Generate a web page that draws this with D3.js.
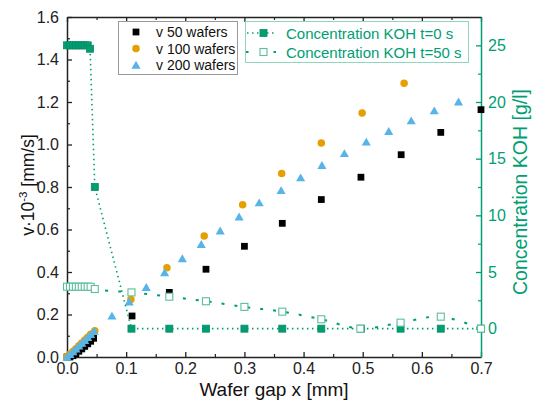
<!DOCTYPE html>
<html>
<head>
<meta charset="utf-8">
<script src="https://cdn.jsdelivr.net/npm/d3@7"></script>
<style>
  body { margin: 0; background: white; }
  svg text { font-family: "Liberation Sans", Arial, sans-serif; }
</style>
</head>
<body>
<div id="chart"></div>
<script>
var W = 534, H = 400;
var green = "#009E73", orange = "#E69F00", blue = "#56B4E9";

// v 50 wafers
var x50 = [0.000, 0.005, 0.010, 0.015, 0.020, 0.025, 0.030, 0.035, 0.040, 0.045,
           0.110, 0.173, 0.235, 0.300, 0.364, 0.430, 0.497, 0.565, 0.632, 0.700];
var v50 = [0.000, 0.000, 0.006, 0.016, 0.027, 0.038, 0.050, 0.062, 0.074, 0.088,
           0.193, 0.304, 0.413, 0.521, 0.629, 0.741, 0.846, 0.952, 1.057, 1.164];
// v 100 wafers
var x100 = [0.000, 0.005, 0.010, 0.015, 0.020, 0.025, 0.030, 0.035, 0.040, 0.047,
            0.108, 0.169, 0.232, 0.297, 0.363, 0.430, 0.499, 0.570];
var v100 = [0.001, 0.013, 0.026, 0.039, 0.053, 0.066, 0.080, 0.093, 0.107, 0.123,
            0.271, 0.420, 0.569, 0.717, 0.863, 1.007, 1.148, 1.288];
// v 200 wafers
var x200 = [0.000, 0.005, 0.010, 0.015, 0.020, 0.025, 0.030, 0.035, 0.040, 0.046,
            0.076, 0.105, 0.134, 0.165, 0.195, 0.227, 0.259, 0.291, 0.325, 0.362,
            0.395, 0.431, 0.469, 0.506, 0.544, 0.582, 0.621, 0.662];
var v200 = [0.000, 0.012, 0.025, 0.038, 0.052, 0.065, 0.078, 0.092, 0.106, 0.122,
            0.193, 0.260, 0.328, 0.397, 0.463, 0.530, 0.594, 0.660, 0.726, 0.784,
            0.844, 0.902, 0.958, 1.012, 1.062, 1.112, 1.159, 1.201];
// Concentration KOH t=0 s
var xc0 = [0.000, 0.005, 0.010, 0.015, 0.020, 0.025, 0.030, 0.035, 0.039, 0.047,
           0.109, 0.173, 0.235, 0.300, 0.364, 0.430, 0.497, 0.564, 0.632, 0.700];
var c0 = [25.0, 25.0, 25.0, 25.0, 25.0, 25.0, 25.0, 25.0, 24.7, 12.5,
          0, 0, 0, 0, 0, 0, 0, 0, 0, 0];
// Concentration KOH t=50 s
var xc50 = [0.000, 0.005, 0.010, 0.015, 0.020, 0.025, 0.030, 0.035, 0.040, 0.047,
            0.109, 0.173, 0.235, 0.300, 0.364, 0.430, 0.496, 0.564, 0.632, 0.700];
var c50 = [3.7, 3.7, 3.7, 3.7, 3.7, 3.7, 3.7, 3.7, 3.7, 3.5,
           3.2, 2.82, 2.42, 1.92, 1.5, 0.83, 0.0, 0.53, 1.06, 0.0];

var xTicks = [0, 0.1, 0.2, 0.3, 0.4, 0.5, 0.6, 0.7];
var yTicks = [0, 0.2, 0.4, 0.6, 0.8, 1.0, 1.2, 1.4, 1.6];
var y2Ticks = [0, 5, 10, 15, 20, 25];

var padL = 67, padR = 481, padT = 17, padB = 357;

var x = d3.scaleLinear().domain([0, 0.7]).range([padL, padR]);
var y = d3.scaleLinear().domain([0, 1.6]).range([padB, padT]);
var y2 = d3.scaleLinear().domain([-2.5, 27.5]).range([padB, padT]);

var svg = d3.select("#chart").append("svg")
    .attr("width", W).attr("height", H);

function minors(lo, hi, step) {
  var out = [];
  for (var v = lo; v <= hi + 1e-9; v += step) out.push(+v.toFixed(4));
  return out;
}

function styleAxis(g, col) {
  g.selectAll("path").attr("stroke", col).attr("stroke-width", 1.5);
  g.selectAll("line").attr("stroke", col).attr("stroke-width", 1.3);
  g.selectAll("text").attr("fill", col).style("font-size", "16px")
    .attr("font-family", "Liberation Sans, Arial, sans-serif");
}

// minor ticks
function minorAxis(axis, transform, col) {
  var g = svg.append("g").attr("transform", transform).call(axis);
  g.select(".domain").remove();
  g.selectAll("line").attr("stroke", col).attr("stroke-width", 1.2);
  g.selectAll("text").remove();
}
minorAxis(d3.axisBottom(x).tickValues(minors(0.05, 0.65, 0.1)).tickSize(-3), "translate(0," + padB + ")", "#222");
minorAxis(d3.axisTop(x).tickValues(minors(0.05, 0.65, 0.1)).tickSize(-3), "translate(0," + padT + ")", "#222");
minorAxis(d3.axisLeft(y).tickValues(minors(0.1, 1.5, 0.2)).tickSize(-3), "translate(" + padL + ",0)", "#222");
minorAxis(d3.axisRight(y2).tickValues([2.5, 7.5, 12.5, 17.5, 22.5]).tickSize(-3), "translate(" + padR + ",0)", green);

var gx = svg.append("g").attr("transform", "translate(0," + padB + ")")
  .call(d3.axisBottom(x).tickValues(xTicks).tickFormat(d3.format(".1f")).tickSize(-5).tickSizeOuter(0).tickPadding(6));
styleAxis(gx, "#222");
var gxt = svg.append("g").attr("transform", "translate(0," + padT + ")")
  .call(d3.axisTop(x).tickValues(xTicks).tickFormat("").tickSize(-5).tickSizeOuter(0));
styleAxis(gxt, "#222");
var gy = svg.append("g").attr("transform", "translate(" + padL + ",0)")
  .call(d3.axisLeft(y).tickValues(yTicks).tickFormat(d3.format(".1f")).tickSize(-5).tickSizeOuter(0).tickPadding(8));
styleAxis(gy, "#222");
var gy2 = svg.append("g").attr("transform", "translate(" + padR + ",0)")
  .call(d3.axisRight(y2).tickValues(y2Ticks).tickSize(-5).tickSizeOuter(0).tickPadding(7));
styleAxis(gy2, green);

// axis titles
svg.append("text").attr("x", 274).attr("y", 396).attr("text-anchor", "middle")
  .style("font-size", "19px").attr("fill", "#111").text("Wafer gap x [mm]");

var lt = svg.append("text").attr("transform", "translate(34,185) rotate(-90)")
  .attr("text-anchor", "middle").style("font-size", "17.5px").attr("fill", "#111");
lt.append("tspan").text("v\u00b710");
lt.append("tspan").attr("dy", -7).style("font-size", "11.5px").text("-3");
lt.append("tspan").attr("dy", 7).text(" [mm/s]");

svg.append("text").attr("transform", "translate(527,192) rotate(-90)")
  .attr("text-anchor", "middle").style("font-size", "19.5px").attr("fill", green)
  .text("Concentration KOH [g/l]");

// velocity markers
var sq = d3.symbol().type(d3.symbolSquare).size(46);
var ci = d3.symbol().type(d3.symbolCircle).size(44);
var tr = d3.symbol().type(d3.symbolTriangle).size(36);

function pts(xs, ys) { return xs.map(function(d, i) { return [d, ys[i]]; }); }

svg.append("g").selectAll("path").data(pts(x50, v50)).join("path")
  .attr("d", sq).attr("transform", function(d) { return "translate(" + x(d[0]) + "," + y(d[1]) + ")"; })
  .attr("fill", "#000");
svg.append("g").selectAll("path").data(pts(x100, v100)).join("path")
  .attr("d", ci).attr("transform", function(d) { return "translate(" + x(d[0]) + "," + y(d[1]) + ")"; })
  .attr("fill", orange);
svg.append("g").selectAll("path").data(pts(x200, v200)).join("path")
  .attr("d", tr).attr("transform", function(d) { return "translate(" + x(d[0]) + "," + (y(d[1]) + 1) + ")"; })
  .attr("fill", blue);

// concentration lines
var line0 = d3.line().x(function(d) { return x(d[0]); }).y(function(d) { return y2(d[1]); });
var line50 = d3.line().x(function(d) { return x(d[0]); }).y(function(d) { return y2(d[1]); })
  .curve(d3.curveCatmullRom);
svg.append("path").datum(pts(xc0, c0))
  .attr("d", line0)
  .attr("fill", "none").attr("stroke", green).attr("stroke-width", 1.6)
  .attr("stroke-dasharray", "1.5,3.5");
svg.append("path").datum(pts(xc50, c50))
  .attr("d", line50)
  .attr("fill", "none").attr("stroke", green).attr("stroke-width", 2)
  .attr("stroke-dasharray", "3,10");

svg.append("g").selectAll("rect").data(pts(xc0, c0)).join("rect")
  .attr("x", function(d) { return x(d[0]) - 3.5; })
  .attr("y", function(d) { return y2(d[1]) - 3.5; })
  .attr("width", 7).attr("height", 7)
  .attr("fill", green).attr("stroke", "#0a8a64").attr("stroke-width", 0.8);
svg.append("g").selectAll("rect").data(pts(xc50, c50)).join("rect")
  .attr("x", function(d) { return x(d[0]) - 3.5; })
  .attr("y", function(d) { return y2(d[1]) - 3.5; })
  .attr("width", 7).attr("height", 7)
  .attr("fill", "white").attr("stroke", "#5cbf9c").attr("stroke-width", 1.1);

// legend 1
var lg1 = svg.append("g");
lg1.append("rect").attr("x", 118.5).attr("y", 21.5).attr("width", 119).attr("height", 53)
  .attr("fill", "white").attr("stroke", "#999").attr("stroke-width", 1);
var leg1 = [["v 50 wafers", sq, "#000"], ["v 100 wafers", ci, orange], ["v 200 wafers", tr, blue]];
leg1.forEach(function(d, i) {
  var yy = 32 + i * 16.5;
  lg1.append("path").attr("d", d[1]).attr("transform", "translate(136," + (yy + (i == 2 ? 1 : 0)) + ")").attr("fill", d[2]);
  lg1.append("text").attr("x", 156).attr("y", yy + 5).style("font-size", "14px").attr("fill", "#111").text(d[0]);
});

// legend 2
var lg2 = svg.append("g");
lg2.append("rect").attr("x", 245.5).attr("y", 21.5).attr("width", 223).attr("height", 41)
  .attr("fill", "white").attr("stroke", "#8fd6bd").attr("stroke-width", 1);
lg2.append("line").attr("x1", 247).attr("x2", 276).attr("y1", 33).attr("y2", 33)
  .attr("stroke", green).attr("stroke-width", 1.6).attr("stroke-dasharray", "1.5,3.5");
lg2.append("rect").attr("x", 260).attr("y", 29.5).attr("width", 7).attr("height", 7)
  .attr("fill", green).attr("stroke", "#0a8a64").attr("stroke-width", 0.8);
lg2.append("line").attr("x1", 246).attr("x2", 276).attr("y1", 52).attr("y2", 52)
  .attr("stroke", green).attr("stroke-width", 2).attr("stroke-dasharray", "2.5,25");
lg2.append("rect").attr("x", 260).attr("y", 48.5).attr("width", 7).attr("height", 7)
  .attr("fill", "white").attr("stroke", "#5cbf9c").attr("stroke-width", 1.1);
lg2.append("text").attr("x", 286).attr("y", 38.5).style("font-size", "15px").attr("fill", green)
  .text("Concentration KOH t=0 s");
lg2.append("text").attr("x", 286).attr("y", 57.5).style("font-size", "15px").attr("fill", green)
  .text("Concentration KOH t=50 s");
</script>
</body>
</html>
